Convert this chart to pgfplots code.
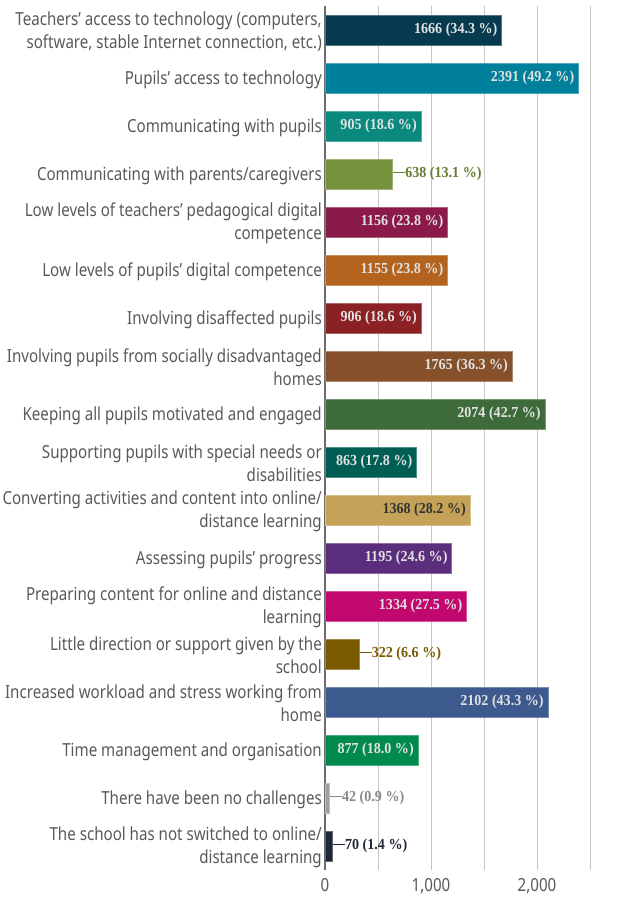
\documentclass[border=0pt]{standalone}
\usepackage{pgfplots}
\pgfplotsset{compat=1.18}
\usepackage{fontspec}
\setmainfont{Noto Sans}[FakeStretch=0.84]
\newfontfamily\valfont{Liberation Serif}[FakeStretch=0.92]
\definecolor{txt}{HTML}{595959}
\definecolor{lab}{HTML}{E2E2E2}
\definecolor{c1}{HTML}{063A4F}
\definecolor{c2}{HTML}{00809A}
\definecolor{c3}{HTML}{0A8A7C}
\definecolor{c4}{HTML}{76923C}
\definecolor{c5}{HTML}{8B1A4B}
\definecolor{c6}{HTML}{B4631F}
\definecolor{c7}{HTML}{8B2124}
\definecolor{c8}{HTML}{86502A}
\definecolor{c9}{HTML}{3E6B3A}
\definecolor{c10}{HTML}{005E55}
\definecolor{c11}{HTML}{C4A358}
\definecolor{c12}{HTML}{5B2D7D}
\definecolor{c13}{HTML}{C2086E}
\definecolor{c14}{HTML}{7A5A00}
\definecolor{c15}{HTML}{3D5A8E}
\definecolor{c16}{HTML}{008A4B}
\definecolor{c17}{HTML}{A0A0A0}
\definecolor{c18}{HTML}{1F2836}
\pgfplotsset{
  inlab/.style={nodes near coords, point meta=explicit symbolic,
    every node near coord/.append style={anchor=east, xshift=-4pt, inner sep=0pt,
      font=\valfont\bfseries\fontsize{15.3}{15}\selectfont, text=#1}},
  inlab/.default=lab,
  outlab/.style={nodes near coords, point meta=explicit symbolic,
    every node near coord/.append style={anchor=west, xshift=0.5pt, inner sep=0pt,
      font=\valfont\bfseries\fontsize{15.3}{15}\selectfont, text=#1}},
}
\newcommand{\lead}{\raisebox{0.32em}{\rule{12pt}{0.7pt}}}
\begin{document}
\begin{tikzpicture}
\path[use as bounding box] (-325pt,-31pt) rectangle (314pt,870pt);
\begin{axis}[
  at={(0,0)}, anchor=south west,
  scale only axis, width=265pt, height=864pt,
  xbar, bar width=30pt, bar shift=0pt,
  xmin=0, xmax=2500, ymin=-0.5, ymax=17.5, y dir=reverse,
  axis lines*=left,
  axis line style={-},
  x axis line style={draw=none},
  y axis line style={draw=gray!85!black, line width=1.2pt},
  xtick={0,1000,2000}, minor xtick={500,1500,2500},
  xmajorgrids, xminorgrids,
  major grid style={draw=gray!45, line width=0.8pt},
  minor grid style={draw=gray!45, line width=0.8pt},
  major tick length=0pt, minor tick length=0pt,
  scaled x ticks=false,
  /pgf/number format/assume math mode=true,
  /pgf/number format/1000 sep={,},
  xticklabel style={font=\fontsize{18}{22}\selectfont, text=txt, yshift=-5pt},
  ytick={0,...,17},
  yticklabels={
    {Teachers’ access to technology (computers,\\software, stable Internet connection, etc.)},
    {Pupils’ access to technology},
    {Communicating with pupils},
    {Communicating with parents/caregivers},
    {Low levels of teachers’ pedagogical digital\\competence},
    {Low levels of pupils’ digital competence},
    {Involving disaffected pupils},
    {Involving pupils from socially disadvantaged\\homes},
    {Keeping all pupils motivated and engaged},
    {Supporting pupils with special needs or\\disabilities},
    {Converting activities and content into online/\\distance learning},
    {Assessing pupils’ progress},
    {Preparing content for online and distance\\learning},
    {Little direction or support given by the\\school},
    {Increased workload and stress working from\\home},
    {Time management and organisation},
    {There have been no challenges},
    {The school has not switched to online/\\distance learning}
  },
  yticklabel style={font=\fontsize{18}{23}\selectfont, text=txt, align=right, inner sep=0pt, xshift=-3pt, yshift=-1.5pt},
]
\addplot[fill=c1, draw=c1!70!white, inlab] coordinates {(1666,0) [1666 (34.3 \%)]};
\addplot[fill=c2, draw=c2!70!white, inlab] coordinates {(2391,1) [2391 (49.2 \%)]};
\addplot[fill=c3, draw=c3!70!white, inlab] coordinates {(905,2) [905 (18.6 \%)]};
\addplot[fill=c4, draw=c4!70!white, outlab=c4!85!black] coordinates {(638,3) [\lead638 (13.1 \%)]};
\addplot[fill=c5, draw=c5!70!white, inlab] coordinates {(1156,4) [1156 (23.8 \%)]};
\addplot[fill=c6, draw=c6!70!white, inlab] coordinates {(1155,5) [1155 (23.8 \%)]};
\addplot[fill=c7, draw=c7!70!white, inlab] coordinates {(906,6) [906 (18.6 \%)]};
\addplot[fill=c8, draw=c8!70!white, inlab] coordinates {(1765,7) [1765 (36.3 \%)]};
\addplot[fill=c9, draw=c9!70!white, inlab] coordinates {(2074,8) [2074 (42.7 \%)]};
\addplot[fill=c10, draw=c10!70!white, inlab] coordinates {(863,9) [863 (17.8 \%)]};
\addplot[fill=c11, draw=c11!70!white, inlab=black!80] coordinates {(1368,10) [1368 (28.2 \%)]};
\addplot[fill=c12, draw=c12!70!white, inlab] coordinates {(1195,11) [1195 (24.6 \%)]};
\addplot[fill=c13, draw=c13!70!white, inlab] coordinates {(1334,12) [1334 (27.5 \%)]};
\addplot[fill=c14, draw=c14!70!white, outlab=c14] coordinates {(322,13) [\lead322 (6.6 \%)]};
\addplot[fill=c15, draw=c15!70!white, inlab] coordinates {(2102,14) [2102 (43.3 \%)]};
\addplot[fill=c16, draw=c16!70!white, inlab] coordinates {(877,15) [877 (18.0 \%)]};
\addplot[fill=c17, draw=c17!70!white, outlab=c17!85!black] coordinates {(42,16) [\lead42 (0.9 \%)]};
\addplot[fill=c18, draw=c18!70!white, outlab=c18] coordinates {(70,17) [\lead70 (1.4 \%)]};
\end{axis}
\end{tikzpicture}
\end{document}
